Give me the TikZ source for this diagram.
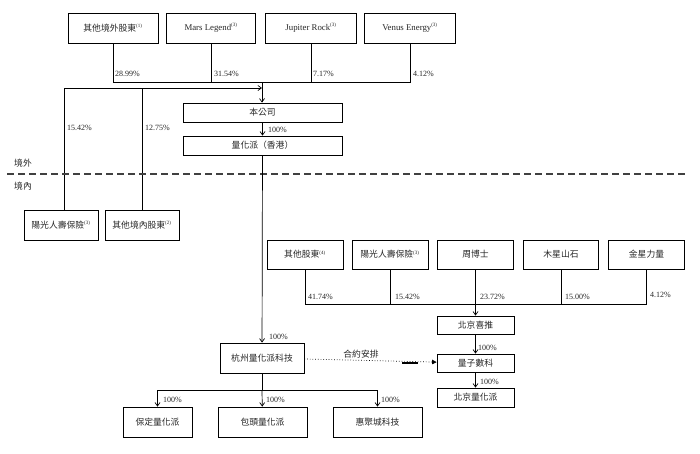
\documentclass[tikz,border=0pt]{standalone}
\usepackage{fontspec}
\setmainfont{Liberation Serif}
\newfontfamily\cjk{Noto Sans CJK TC}
\usetikzlibrary{arrows.meta}
\begin{document}
\begin{tikzpicture}[x=1pt,y=-1pt,
  box/.style={draw=black,line width=0.8pt,inner sep=0pt,minimum height=30pt,text=black!85,font=\fontsize{8.8}{10}\selectfont},
  pct/.style={anchor=west,inner sep=0pt,text=black!85,font=\fontsize{8}{9}\selectfont},
  ln/.style={line width=0.7pt},
  arr/.style={line width=0.7pt,-{Straight Barb[length=3.5pt,width=5pt]}}]
\useasboundingbox (0,0) rectangle (700,453);
% top shareholders
\node[box,minimum width=90pt] (o1) at (113,28) {{\cjk 其他境外股東}\textsuperscript{\tiny(1)}};
\node[box,minimum width=89pt] (mars) at (211,28) {Mars Legend\textsuperscript{\tiny(3)}};
\node[box,minimum width=91pt] (jup) at (311,28) {Jupiter Rock\textsuperscript{\tiny(3)}};
\node[box,minimum width=91pt] (ven) at (410,28) {Venus Energy\textsuperscript{\tiny(3)}};
\coordinate (jt) at (262,82);
\coordinate (jl) at (262,88);
\draw[ln] (o1) -- (o1 |- jt) -- (ven |- jt) -- (ven);
\draw[ln] (mars) -- (mars |- jt);
\draw[ln] (jup) -- (jup |- jt);
\node[pct] (p1) at (115,74) {28.99\%};
\node[pct] (p2) at (214,74) {31.54\%};
\node[pct] (p3) at (313,74) {7.17\%};
\node[pct] (p4) at (413,74) {4.12\%};
% company
\node[box,minimum width=159pt,minimum height=19pt] (bgs) at (262.5,112.5) {\cjk 本公司};
\node[box,minimum width=159pt,minimum height=19pt] (hk) at (262.5,145.5) {\cjk 量化派（香港）};
\draw[arr] (jt) -- (bgs.north -| jt);
\draw[arr] (bgs) -- (hk);
\node[pct] (p5) at (268,130) {100\%};
% left domestic shareholders
\node[box,minimum width=74pt] (ygl) at (61,225) {{\cjk 陽光人壽保險}\textsuperscript{\tiny(3)}};
\node[box,minimum width=74pt] (onl) at (142,225) {{\cjk 其他境內股東}\textsuperscript{\tiny(2)}};
\draw[arr] ([xshift=3pt]ygl.north) |- (jl);
\draw[ln] (onl) -- (onl |- jl);
\node[pct] (p6) at (67,128) {15.42\%};
\node[pct] (p7) at (145,128) {12.75\%};
% border line
\coordinate (dl) at (7,174);
\coordinate (dr) at (685,174);
\draw[line width=1.1pt,black!75,dash pattern=on 7pt off 4pt] (dl) -- (dr);
\node[anchor=west,inner sep=0pt,text=black!85,font=\fontsize{8.8}{10}\selectfont\cjk] (jw) at (14,163) {境外};
\node[anchor=west,inner sep=0pt,text=black!85,font=\fontsize{8.8}{10}\selectfont\cjk] (jn) at (14,186) {境內};
% Hangzhou
\node[box,minimum width=84pt] (hz) at (262,358) {\cjk 杭州量化派科技};
\draw[arr] (hk) -- (hz);
\node[pct] (p8) at (269,337) {100\%};
% right shareholders
\node[box,minimum width=76pt,minimum height=29pt] (os) at (305,254.5) {{\cjk 其他股東}\textsuperscript{\tiny(4)}};
\node[box,minimum width=76pt,minimum height=29pt] (ygr) at (390,254.5) {{\cjk 陽光人壽保險}\textsuperscript{\tiny(3)}};
\node[box,minimum width=76pt,minimum height=29pt] (zhou) at (475.5,254.5) {\cjk 周博士};
\node[box,minimum width=75pt,minimum height=29pt] (mx) at (561,254.5) {\cjk 木星山石};
\node[box,minimum width=76pt,minimum height=29pt] (jx) at (646.5,254.5) {\cjk 金星力量};
\coordinate (jr) at (475.5,304);
\draw[ln] (os) -- (os |- jr) -- (jx |- jr) -- (jx);
\draw[ln] (ygr) -- (ygr |- jr);
\draw[ln] (mx) -- (mx |- jr);
\node[pct] (p9) at (308,297) {41.74\%};
\node[pct] (p10) at (395,297) {15.42\%};
\node[pct] (p11) at (480,297) {23.72\%};
\node[pct] (p12) at (565,297) {15.00\%};
\node[pct] (p13) at (650,295) {4.12\%};
\node[box,minimum width=77pt,minimum height=18pt] (bx) at (475.5,325) {\cjk 北京喜推};
\node[box,minimum width=77pt,minimum height=18pt] (lz) at (475.5,363) {\cjk 量子數科};
\node[box,minimum width=77pt,minimum height=19pt] (bl) at (475.5,397.5) {\cjk 北京量化派};
\draw[arr] (zhou) -- (bx);
\draw[arr] (bx) -- (lz);
\draw[arr] (lz) -- (bl);
\node[pct] (p14) at (478,348) {100\%};
\node[pct] (p15) at (480,382) {100\%};
% contractual arrangement
\draw[line width=0.7pt,dotted,-{Triangle[length=4.5pt,width=4.5pt]}] (hz) -- (lz);
\coordinate (ta) at (402,363);
\coordinate (tb) at (418,363);
\draw[line width=1.6pt] (ta) -- (tb);
\node[inner sep=0pt,text=black!85,font=\fontsize{8.8}{10}\selectfont\cjk] (hy) at (361,354) {合約安排};
% subsidiaries
\node[box,minimum width=69pt] (bd) at (157.5,422) {\cjk 保定量化派};
\node[box,minimum width=89pt] (bt) at (262.5,422) {\cjk 包頭量化派};
\node[box,minimum width=89pt] (hj) at (377.5,422) {\cjk 惠聚城科技};
\coordinate (jb) at (262,390);
\draw[ln] (hz) -- (jb);
\draw[arr] (bd |- jb) -- (bd);
\draw[arr] (jb) -- (bt);
\draw[arr] (bd |- jb) -- (hj |- jb) -- (hj);
\node[pct] (p16) at (163,400) {100\%};
\node[pct] (p17) at (266,400) {100\%};
\node[pct] (p18) at (381,400) {100\%};
\end{tikzpicture}
\end{document}
